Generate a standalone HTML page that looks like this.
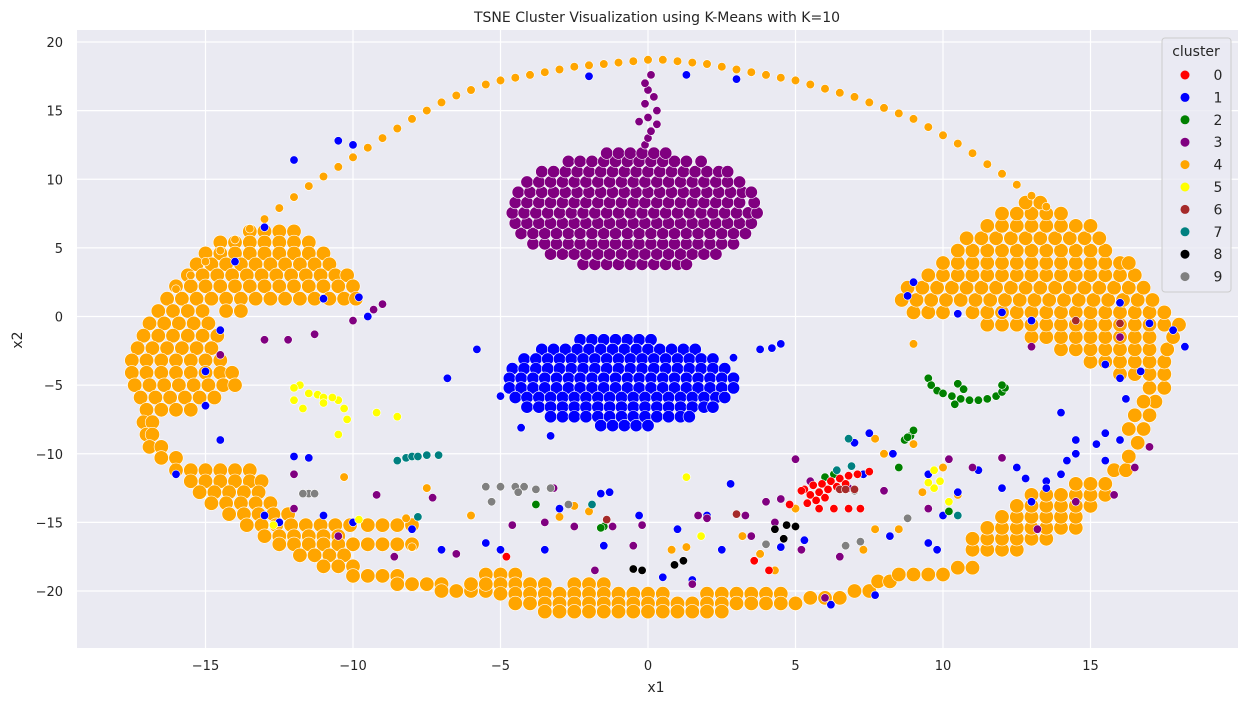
<!DOCTYPE html>
<html><head><meta charset="utf-8">
<style>
body{margin:0;background:#fff;}
svg{display:block;font-family:"DejaVu Sans","Liberation Sans",sans-serif;}
</style></head>
<body>
<svg id="chart" width="1248" height="705">
  <text x="657" y="22" text-anchor="middle" font-size="14" fill="#262626">TSNE Cluster Visualization using K-Means with K=10</text>
  <rect x="77" y="30" width="1161" height="618" fill="#eaeaf2"/>
  <g id="grid"></g>
  <g id="ticks"></g>
  <g id="points"></g>
  <text x="656" y="692" text-anchor="middle" font-size="14" fill="#262626">x1</text>
  <text x="22" y="340" text-anchor="middle" font-size="14" fill="#262626" transform="rotate(-90 22 340)">x2</text>
  <g id="legend">
    <rect x="1162" y="38" width="69" height="254" rx="3" fill="#eaeaf2" fill-opacity="0.8" stroke="#cccccc"/>
    <text x="1196" y="56" text-anchor="middle" font-size="14" fill="#262626">cluster</text>
  </g>
</svg>
<script>
const xTicks = [-15,-10,-5,0,5,10,15];
const yTicks = [20,15,10,5,0,-5,-10,-15,-20];
const clusterIds = [0,1,2,3,4,5,6,7,8,9];
const clusterColors = ["#ff0000","#0000ff","#008000","#800080","#ffa500","#ffff00","#a52a2a","#008080","#000000","#808080"];

// orange (cluster 4) dense regions, rows "y:x x x"
const orangeRows = [
"6.2:-13.5 -13 -12.5 -12","5.4:-14.5 -14 -13.5 -13 -12.5 -12 -11.5","4.6:-15 -14.5 -14 -13.5 -13 -12.5 -12 -11.5 -11",
"3.8:-15.3 -14.8 -14.3 -13.8 -13.3 -12.8 -12.3 -11.8 -11.3 -10.8","3:-15.6 -15.1 -14.6 -14.1 -13.6 -13.1 -12.6 -12.1 -11.6 -11.1 -10.6 -10.2",
"2.2:-16 -15.5 -15 -14.5 -14 -13.5 -13 -12.5 -12 -11.5 -11 -10.5 -10","1.3:-16.3 -15.8 -15.3 -14.8 -14.3 -13.8 -13.3 -12.8 -12.3 -11.8 -11.3 -10.8 -10.3 -9.9",
"0.4:-16.6 -16.1 -15.6 -15.1 -14.3 -13.8","-0.5:-16.9 -16.4 -15.9 -15.4 -14.9","-1.4:-17.1 -16.6 -16.1 -15.6 -15.1 -14.6",
"-2.3:-17.3 -16.8 -16.3 -15.8 -15.3 -14.8","-3.2:-17.5 -17 -16.5 -16 -15.5 -15 -14.5","-4.1:-17.5 -17 -16.5 -16 -15.5 -15 -14.5 -14.1",
"-5:-17.4 -16.9 -16.4 -15.9 -15.4 -14.9 -14.4 -14","-5.9:-17.2 -16.7 -16.2 -15.7 -15.2 -14.7","-6.8:-17 -16.5 -16 -15.5",
"-7.7:-17.1 -16.8","-8.6:-17 -16.8","-9.5:-16.9 -16.5","-10.3:-16.5 -16","-11.2:-16 -15.5 -15 -14.5 -14 -13.5",
"-12:-15.5 -15 -14.5 -14 -13.5 -13.1","-12.8:-15.2 -14.7 -14.2 -13.7 -13.2","-13.6:-14.8 -14.3 -13.8 -13.3 -12.8",
"-14.4:-14.2 -13.7 -13.2 -12.7 -12.2","-15.2:-13.6 -13.1 -12.6 -12.1 -11.6 -11.1 -10.6 -10.1 -9.5 -9 -8.5 -8",
"-16:-13 -12.5 -12 -11.5 -11 -10.5","-16.6:-12.5 -12 -11.5 -11 -10.5 -10 -9.5 -9 -8.5 -8","-17.4:-11.8 -11.3 -10.8 -10.3",
"-18.2:-11 -10.5 -10","-18.9:-10 -9.5 -9 -8.5","-19.5:-8.5 -8 -7.5 -7","-20:-7 -6.5 -6 -5.5",
"-18.8:-5.5 -5 -4.5","-19.5:-6 -5.5 -5 -4.5 -4 -3.5 -2.5 -2 -1.5",
"-20.2:-5 -4.5 -4 -3.5 -3 -2.5 -2 -1.5 -1 -0.5 0 0.5 2 2.5 3 3.5 4 4.5",
"-20.9:-4.5 -4 -3.5 -3 -2.5 -2 -1.5 -1 -0.5 0 0.5 1 1.5 2 2.5 3 3.5 4 4.5 5",
"-21.5:-3.5 -3 -2.5 -2 -1.5 -1 -0.5 0 0.5 1 1.5 2 2.5","-20.5:5.5 6 6.5","-20:7 7.5","-19.3:7.8 8.2",
"-18.8:8.5 9 9.5 10","-18.3:10.5 11","-17:11 11.5 12 12.5","-16.2:11 11.5 12 12.5 13 13.5",
"-15.4:11.5 12 12.5 13 13.5 14 14.5","-14.6:12 12.5 13 13.5 14 14.5","-13.8:12.5 13 13.5 14 14.5 15",
"-13:13 13.5 14 14.5 15 15.5","-12.2:14.5 15 15.5","-11.2:15.8 16.2","-10.2:16.3","-9.2:16.6","-8.2:16.8 16.3",
"-7.2:17 16.5","-6.2:17.2 16.8","-5.2:17.5 17","-4.2:16 16.5 17 17.5","-3.3:15 15.5 16 16.5 17 17.5",
"-2.4:14 14.5 15 15.5 16 16.5 17 17.6","-1.5:13 13.5 14 14.5 15 15.5 16 16.5 17 17.8",
"-0.6:11.5 12 12.5 13 13.5 14 14.5 15 15.5 16 16.5 17 17.5 18",
"0.3:9 9.5 10 11 11.5 12 12.5 13 13.5 14 14.5 15 15.5 16 16.5 17 17.5",
"1.2:8.6 9.1 9.6 10.1 10.6 11.1 11.6 12.1 12.6 13.1 13.6 14.1 14.6 15.1 15.6 16.1 16.6 17.1",
"2.1:8.8 9.3 9.8 10.3 10.8 11.3 11.8 12.3 12.8 13.3 13.8 14.3 14.8 15.3 15.8 16.3 16.8",
"3:9.5 10 10.5 11 11.5 12 12.5 13 13.5 14 14.5 15 15.5 16 16.5",
"3.9:10 10.5 11 11.5 12 12.5 13 13.5 14 14.5 15 15.5 16 16.3",
"4.8:10.5 11 11.5 12 12.5 13 13.5 14 14.5 15 15.5","5.7:10.8 11.3 11.8 12.3 12.8 13.3 13.8 14.3 14.8 15.3",
"6.6:11.5 12 12.5 13 13.5 14 14.5 15","7.5:12 12.5 13 13.5 14","8.3:12.8 13.3"
];
const orangePoints = [[-16,2],[-15.5,3],[-15,4],[-14.5,4.8],[-14,5.6],[-13.5,6.4],[-13,7.1],[-12.5,7.9],[-12,8.7],[-11.5,9.5],[-11,10.2],[-10.5,10.9],[-10,11.6],[-9.5,12.3],[-9,13],[-8.5,13.7],[-8,14.4],[-7.5,15],[-7,15.6],[-6.5,16.1],[-6,16.5],[-5.5,16.9],[-5,17.2],[-4.5,17.4],[-4,17.6],[-3.5,17.8],[-3,18],[-2.5,18.2],[-2,18.3],[-1.5,18.4],[-1,18.5],[-0.5,18.6],[0,18.7],[0.5,18.7],[1,18.6],[1.5,18.5],[2,18.4],[2.5,18.2],[3,18],[3.5,17.8],[4,17.6],[4.5,17.4],[5,17.2],[5.5,16.9],[6,16.6],[6.5,16.3],[7,16],[7.5,15.6],[8,15.2],[8.5,14.8],[9,14.4],[9.5,13.8],[10,13.2],[10.5,12.6],[11,11.9],[11.5,11.1],[12,10.4],[12.5,9.6],[13,8.8],[13.5,8],
[-10.3,-11.7],[-7.5,-12.5],[-8,-16.8],[-6,-14.5],[-2.5,-13.8],[-2,-14.2],[2,-14.6],[1.3,-16.8],[0.8,-17],[3.8,-17.3],[5,-14],[4.3,-18.5],[8,-10],[7.7,-8.9],[9,-9.3],[10,-11],[9.3,-12.8],[8.5,-15.5],[7.7,-15.5],[7.3,-17],[3.2,-16],[9,-2],[10.5,-13],[-3,-14.6],[-8.2,-14.7]];

// purple (cluster 3) dense blob rows
const purpleRows = [
"3.8:-2.2 -1.8 -1.4 -1 -0.6 -0.2 0.2 0.6 1 1.3",
"4.55:-3.3 -2.9 -2.5 -2.1 -1.7 -1.3 -0.9 -0.5 -0.1 0.3 0.7 1.1 1.5 1.9 2.3",
"5.3:-3.9 -3.5 -3.1 -2.7 -2.3 -1.9 -1.5 -1.1 -0.7 -0.3 0.1 0.5 0.9 1.3 1.7 2.1 2.5 2.9",
"6.05:-4.3 -3.9 -3.5 -3.1 -2.7 -2.3 -1.9 -1.5 -1.1 -0.7 -0.3 0.1 0.5 0.9 1.3 1.7 2.1 2.5 2.9 3.3",
"6.8:-4.5 -4.1 -3.7 -3.3 -2.9 -2.5 -2.1 -1.7 -1.3 -0.9 -0.5 -0.1 0.3 0.7 1.1 1.5 1.9 2.3 2.7 3.1 3.5",
"7.55:-4.6 -4.2 -3.8 -3.4 -3 -2.6 -2.2 -1.8 -1.4 -1 -0.6 -0.2 0.2 0.6 1 1.4 1.8 2.2 2.6 3 3.4 3.7",
"8.3:-4.5 -4.1 -3.7 -3.3 -2.9 -2.5 -2.1 -1.7 -1.3 -0.9 -0.5 -0.1 0.3 0.7 1.1 1.5 1.9 2.3 2.7 3.1 3.6",
"9.05:-4.4 -4 -3.6 -3.2 -2.8 -2.4 -2 -1.6 -1.2 -0.8 -0.4 0 0.4 0.8 1.2 1.6 2 2.4 2.8 3.2 3.5",
"9.8:-4.1 -3.7 -3.3 -2.9 -2.5 -2.1 -1.7 -1.3 -0.9 -0.5 -0.1 0.3 0.7 1.1 1.5 1.9 2.3 2.7 3.1",
"10.55:-3.6 -3.2 -2.8 -2.4 -2 -1.6 -1.2 -0.8 -0.4 0 0.4 0.8 1.2 1.6 2 2.4 2.7",
"11.3:-2.7 -2.3 -1.9 -1.5 -1.1 -0.7 -0.3 0.1 0.5 0.9 1.3 1.8",
"11.9:-1.4 -1 -0.6 -0.2 0.2 0.6"
];
// blue (cluster 1) dense blob rows
const blueRows = [
"-1.7:-2.3 -1.9 -1.5 -1.1 -0.7 -0.3 0.1",
"-2.4:-3.6 -3.2 -2.8 -2.4 -2 -1.6 -1.2 -0.8 -0.4 0 0.4 0.8 1.2 1.6",
"-3.1:-4.2 -3.8 -3.4 -3 -2.6 -2.2 -1.8 -1.4 -1 -0.6 -0.2 0.2 0.6 1 1.4 1.8 2.2",
"-3.8:-4.6 -4.2 -3.8 -3.4 -3 -2.6 -2.2 -1.8 -1.4 -1 -0.6 -0.2 0.2 0.6 1 1.4 1.8 2.2 2.6",
"-4.5:-4.7 -4.3 -3.9 -3.5 -3.1 -2.7 -2.3 -1.9 -1.5 -1.1 -0.7 -0.3 0.1 0.5 0.9 1.3 1.7 2.1 2.5 2.9",
"-5.2:-4.7 -4.3 -3.9 -3.5 -3.1 -2.7 -2.3 -1.9 -1.5 -1.1 -0.7 -0.3 0.1 0.5 0.9 1.3 1.7 2.1 2.5 2.9",
"-5.9:-4.5 -4.1 -3.7 -3.3 -2.9 -2.5 -2.1 -1.7 -1.3 -0.9 -0.5 -0.1 0.3 0.7 1.1 1.5 1.9 2.3 2.6",
"-6.6:-4.1 -3.7 -3.3 -2.9 -2.5 -2.1 -1.7 -1.3 -0.9 -0.5 -0.1 0.3 0.7 1.1 1.5 1.9 2.2",
"-7.3:-3.3 -2.9 -2.5 -2.1 -1.7 -1.3 -0.9 -0.5 -0.1 0.3 0.7 1.1 1.4",
"-7.95:-1.6 -1.2 -0.8 -0.4 0"
];
const bluePoints = [[-12,-10.2],[-11.5,-10.3],[-14.5,-9],[-6.8,-4.5],[-5.8,-2.4],[-5,-5.8],[-4.3,-8.1],[-3.3,-8.7],[2.9,-3],[3.8,-2.4],[4.5,-2],[4.2,-2.3],[8.3,-10],[7.5,-8.5],[7.3,-11.5],[9.5,-11.5],[10,-14.5],[12.5,-11],[13.5,-12],[14,-11.5],[15.5,-10.5],[16,-9],[14.5,-9],[13,-13.5],[-10,12.5],[-12,11.4],[-2,17.5],[1.3,17.6],[3,17.3],[-8,-15.5],[-7,-17],[-5,-17],[-3.5,-17],[-1.5,-16.7],[-0.3,-14.5],[0.5,-19],[1.5,-19.2],[2.5,-17],[2.8,-12.2],[6.2,-21],[7.7,-20.3],[8.2,-16],[9.5,-16.5],[10.5,-14.5],[14,-7],[15.5,-8.5],[16.2,-6],[16.7,-4],[17.8,-1],[17,-0.5],[18.2,-2.2],[9,2.5],[8.8,1.5],[10.5,0.2],[12,0.3],[13,-0.3],[-9.5,0],[-9.8,1.4],[-11,1.3],[-14,4],[-14.5,-1],[-15,-6.5],[-16,-11.5],[-13,-14.5],[-12.5,-15],[-11,-14.5],[-10,-15],[-15,-4],[-1.6,-12.9],[-1.3,-12.8],[5.3,-16.3],[4.5,-16.8],[9.8,-17],[10.5,-12.8],[11.2,-11.2],[12,-12.5],[14.5,-10],[15.2,-9.3],[15.5,-3.5],[16,-4.5],[16,1],[7,-9.2],[-10.5,12.8],[-13,6.5],[-3,-14],[-5.5,-16.5],[2,-14.5],[1,-15.5],[13.5,-12.5],[14.2,-10.5],[12.8,-11.8]];
const purplePoints = [[-0.1,12.5],[0,13],[0.1,13.5],[0.3,14],[-0.3,14.2],[0,14.5],[0.3,15],[-0.1,15.5],[0.2,16],[0,16.5],[-0.1,17],[0.1,17.6],[-12.2,-1.7],[-13,-1.7],[-11.3,-1.3],[-14.5,-2.8],[-9.3,0.5],[-9,0.9],[-10,-0.3],[-12,-14],[-10.5,-16],[-7.3,-13.2],[-9.2,-13],[-3.5,-15],[-2.5,-15.3],[-1.8,-18.5],[-0.5,-16.7],[-0.2,-15.2],[1.5,-19.5],[1.7,-14.5],[2,-14.7],[3.5,-16],[4,-13.5],[4.5,-13.3],[5,-10.4],[5.5,-12],[4.3,-15],[5.2,-17],[6.5,-17.5],[6.8,-12.5],[8,-12.7],[9.5,-14],[10.2,-10.4],[11,-11],[12,-10.3],[13.2,-15.5],[14.5,-13.5],[15.8,-13],[16.5,-11],[17,-9.5],[13,-2.2],[16,-1.5],[-3.2,-12.5],[-12,-11.5],[-6.5,-17.3],[-8.6,-17.5],[-1.2,-15.3],[6,-20.5],[3.3,-14.5],[-4.6,-15.2]];
const redPoints = [[5.3,-12.6],[5.6,-12.3],[5.9,-12.2],[6.2,-12],[6.5,-11.8],[6.8,-11.6],[7.1,-11.5],[7.5,-11.3],[5.5,-13],[5.8,-12.8],[6.1,-12.6],[6.4,-12.4],[6.7,-12.2],[5.7,-13.4],[6,-13.2],[5.4,-13.6],[5.8,-14],[6.3,-14],[6.8,-14],[7.2,-14],[4.8,-13.7],[4.1,-18.5],[-4.8,-17.5],[3.6,-17.8],[5.2,-12.7]];
const greenPoints = [[9.5,-4.5],[9.6,-5],[9.8,-5.4],[10,-5.6],[10.3,-5.8],[10.6,-6],[10.9,-6.1],[11.2,-6.1],[11.5,-6],[11.8,-5.8],[12,-5.5],[12.1,-5.2],[12,-5],[10.5,-4.9],[10.7,-5.3],[10.4,-6.4],[8.7,-9],[8.9,-8.7],[9,-8.3],[8.8,-8.8],[6,-11.7],[6.3,-11.5],[-1.5,-15.3],[-1.6,-15.4],[-3.8,-13.7],[8.5,-11],[10.2,-14.2]];
const yellowPoints = [[-11.8,-5],[-12,-5.2],[-11.5,-5.6],[-11.2,-5.7],[-11,-5.9],[-12,-6.1],[-11.7,-6.7],[-11,-6.3],[-10.5,-6.1],[-10.3,-6.7],[-10.5,-8.6],[-10.2,-7.5],[-9.2,-7],[-8.5,-7.3],[-10.7,-5.9],[9.7,-11.2],[9.9,-12],[9.7,-12.5],[9.5,-12.1],[10.2,-13.5],[1.3,-11.7],[1.8,-16],[-9.8,-14.8],[-12.7,-15.2]];
const brownPoints = [[6.5,-12.6],[6.7,-12.6],[7,-12.6],[-1.4,-14.8],[3,-14.4],[16,-0.5],[14.5,-0.3]];
const tealPoints = [[-8.5,-10.5],[-8.2,-10.3],[-8,-10.2],[-7.8,-10.2],[-7.5,-10.1],[-7.1,-10.1],[6.8,-8.9],[6.9,-10.9],[6.4,-11.2],[-1.9,-13.7],[10.5,-14.5],[-7.8,-14.6]];
const blackPoints = [[4.7,-15.2],[4.3,-15.5],[4.6,-16.2],[1.2,-17.8],[0.9,-18.1],[-0.5,-18.4],[-0.2,-18.5],[5,-15.3]];
const grayPoints = [[-5.5,-12.4],[-5,-12.4],[-4.5,-12.4],[-4.2,-12.4],[-4.4,-12.8],[-3.8,-12.6],[-3.3,-12.5],[-5.3,-13.5],[-11.5,-12.9],[-11.7,-12.9],[-11.3,-12.9],[7.2,-16.4],[6.7,-16.7],[4,-16.6],[7,-12.7],[8.8,-14.7],[-2.7,-13.7]];

const NS = "http://www.w3.org/2000/svg";
const xPx = v => 648 + v * 29.5;
const yPx = v => 316.5 - v * 13.725;

function rowsToPoints(rows){
  const out = [];
  rows.forEach(r => {
    const parts = r.split(":");
    const y = parseFloat(parts[0]);
    parts[1].trim().split(/\s+/).forEach(x => out.push([parseFloat(x), y]));
  });
  return out;
}

const grid = document.getElementById("grid");
const ticks = document.getElementById("ticks");
xTicks.forEach(t => {
  const l = document.createElementNS(NS, "line");
  l.setAttribute("x1", xPx(t)); l.setAttribute("x2", xPx(t));
  l.setAttribute("y1", 30); l.setAttribute("y2", 648);
  l.setAttribute("stroke", "#fff"); l.setAttribute("stroke-width", "1.2");
  
  
  grid.appendChild(l);
  const tx = document.createElementNS(NS, "text");
  tx.setAttribute("x", xPx(t)); tx.setAttribute("y", 670);
  tx.setAttribute("text-anchor", "middle"); tx.setAttribute("font-size", "13"); tx.setAttribute("fill", "#262626");
  tx.textContent = t < 0 ? "\u2212" + Math.abs(t) : String(t);
  
  
  ticks.appendChild(tx);
});
yTicks.forEach(t => {
  const l = document.createElementNS(NS, "line");
  l.setAttribute("x1", 77); l.setAttribute("x2", 1238);
  l.setAttribute("y1", yPx(t)); l.setAttribute("y2", yPx(t));
  l.setAttribute("stroke", "#fff"); l.setAttribute("stroke-width", "1.2");
  
  
  grid.appendChild(l);
  const tx = document.createElementNS(NS, "text");
  tx.setAttribute("x", 63); tx.setAttribute("y", yPx(t) + 5);
  tx.setAttribute("text-anchor", "end"); tx.setAttribute("font-size", "13"); tx.setAttribute("fill", "#262626");
  tx.textContent = t < 0 ? "\u2212" + Math.abs(t) : String(t);
  
  
  ticks.appendChild(tx);
});

const layers = [
  [4, rowsToPoints(orangeRows), 7.2],
  [4, orangePoints, 4.3],
  [3, rowsToPoints(purpleRows), 6.2],
  [1, rowsToPoints(blueRows), 6.2],
  [1, bluePoints, 4.2],
  [3, purplePoints, 4.2],
  [2, greenPoints, 4.2],
  [5, yellowPoints, 4.2],
  [7, tealPoints, 4.2],
  [9, grayPoints, 4.2],
  [0, redPoints, 4.2],
  [6, brownPoints, 4.2],
  [8, blackPoints, 4.2]
];
const pg = document.getElementById("points");
layers.forEach(([cid, pts, rad]) => {
  pts.forEach(p => {
    const c = document.createElementNS(NS, "circle");
    c.setAttribute("cx", xPx(p[0]).toFixed(1));
    c.setAttribute("cy", yPx(p[1]).toFixed(1));
    c.setAttribute("r", rad);
    c.setAttribute("fill", clusterColors[cid]);
    c.setAttribute("stroke", "#fff");
    c.setAttribute("stroke-width", "0.6");
    
    
    pg.appendChild(c);
  });
});

const lg = document.getElementById("legend");
clusterIds.forEach((id, i) => {
  const y = 75 + i * 22.4;
  const c = document.createElementNS(NS, "circle");
  c.setAttribute("cx", 1185); c.setAttribute("cy", y); c.setAttribute("r", 4.5);
  c.setAttribute("fill", clusterColors[i]);
  
  
  lg.appendChild(c);
  const t = document.createElementNS(NS, "text");
  t.setAttribute("x", 1218); t.setAttribute("y", y + 5);
  t.setAttribute("text-anchor", "middle"); t.setAttribute("font-size", "14"); t.setAttribute("fill", "#262626");
  t.textContent = String(id);
  
  
  lg.appendChild(t);
});
</script>
</body></html>
